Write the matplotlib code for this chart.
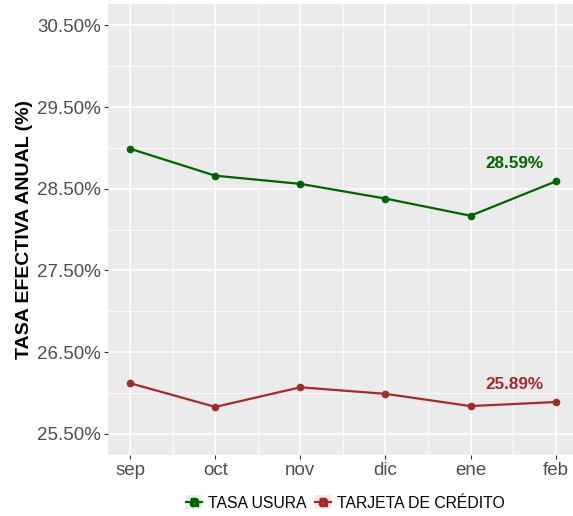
import matplotlib
matplotlib.use("Agg")
import matplotlib.pyplot as plt
from matplotlib.lines import Line2D
from matplotlib.patches import Rectangle
from matplotlib.legend_handler import HandlerTuple
from matplotlib.ticker import FuncFormatter

plt.rcParams['font.family'] = ['Liberation Sans', 'DejaVu Sans']

# datos
meses = ["sep", "oct", "nov", "dic", "ene", "feb"]
tasa_usura = [28.99, 28.66, 28.56, 28.38, 28.17, 28.59]
tarjeta_credito = [26.12, 25.83, 26.07, 25.99, 25.84, 25.89]
series_nombres = ["TASA USURA", "TARJETA DE CRÉDITO"]
colores = ["#006400", "#A52A2A"]

fig = plt.figure(figsize=(5.73, 5.16), dpi=100)
ax = fig.add_axes([0.1885, 0.118, 0.811, 0.874])

x = list(range(len(meses)))
for vals, color in zip([tasa_usura, tarjeta_credito], colores):
    ax.plot(x, vals, color=color, lw=1.6, marker="o", ms=4.5, zorder=3)
    # etiqueta del ultimo valor
    ax.text(x[-1] - 0.48, vals[-1] + 0.22, f"{vals[-1]:.2f}%", color=color,
            fontsize=12.3, fontweight="bold", ha="center", va="center")

# estilo ggplot
ax.set_facecolor("#EBEBEB")
for s in ax.spines.values():
    s.set_visible(False)
ax.set_xlim(-0.26, 5.2)
ax.set_ylim(25.24, 30.76)
ax.set_xticks(x)
ax.set_xticklabels(meses)
ax.set_xticks([i + 0.5 for i in x[:-1]], minor=True)
ax.set_yticks([25.5 + i for i in range(6)])
ax.set_yticks([26.0 + i for i in range(5)], minor=True)
ax.yaxis.set_major_formatter(FuncFormatter(lambda v, p: f"{v:.2f}%"))
ax.grid(which="major", color="white", lw=1.1)
ax.grid(which="minor", color="white", lw=0.55)
ax.set_axisbelow(True)
ax.tick_params(which="major", length=3, color="#333333", labelsize=13.5,
               labelcolor="#4D4D4D", pad=2)
ax.tick_params(which="minor", length=0)
ax.set_ylabel("TASA EFECTIVA ANUAL (%)", fontsize=14, fontweight="bold", labelpad=3)

# leyenda
handles = []
for color in colores:
    h0 = Rectangle((0, 0), 1, 1, facecolor="#EBEBEB", edgecolor="none")
    h1 = Line2D([], [], color=color, lw=1.6)
    h2 = Line2D([], [], color=color, lw=0, marker=r"$\mathbf{a}$", ms=6)
    handles.append((h0, h1, h2))
fig.legend(handles, series_nombres, handler_map={tuple: HandlerTuple(ndivide=1)},
           loc="center", bbox_to_anchor=(0.603, 0.025), ncol=2, frameon=False,
           fontsize=11.3, handlelength=1.0, handleheight=1.0, handletextpad=0.4,
           columnspacing=0.5)

fig.savefig("out.png", dpi=100)
